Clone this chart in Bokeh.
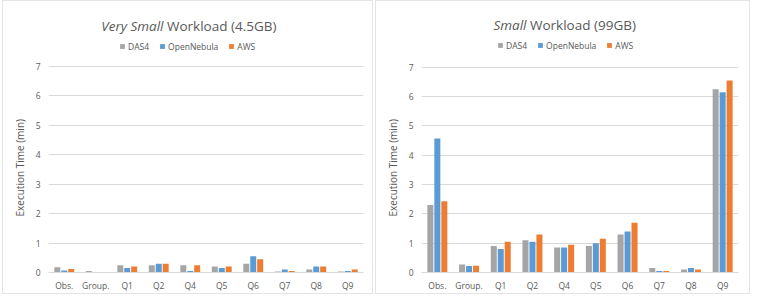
from bokeh.plotting import figure
from bokeh.layouts import row
from bokeh.models import (ColumnDataSource, FactorRange, Legend, LegendItem, FixedTicker,
                          Label, Title, Range1d)
from bokeh.transform import dodge
from bokeh.embed import file_html
from bokeh.resources import INLINE

categories = ["Obs.", "Group.", "Q1", "Q2", "Q4", "Q5", "Q6", "Q7", "Q8", "Q9"]
series_names = ["DAS4", "OpenNebula", "AWS"]

vs_das4 = [0.18, 0.05, 0.25, 0.25, 0.25, 0.20, 0.30, 0.03, 0.10, 0.03]
vs_opennebula = [0.07, 0.01, 0.15, 0.30, 0.05, 0.15, 0.55, 0.10, 0.20, 0.05]
vs_aws = [0.12, 0.01, 0.20, 0.30, 0.25, 0.20, 0.45, 0.05, 0.20, 0.10]

s_das4 = [2.30, 0.27, 0.90, 1.10, 0.85, 0.90, 1.30, 0.15, 0.10, 6.25]
s_opennebula = [4.57, 0.22, 0.80, 1.05, 0.85, 1.00, 1.40, 0.05, 0.15, 6.15]
s_aws = [2.43, 0.23, 1.05, 1.30, 0.95, 1.15, 1.70, 0.05, 0.10, 6.55]

y_ticks = [0, 1, 2, 3, 4, 5, 6, 7]
colors = ["#A5A5A5", "#5B9BD5", "#ED7D31"]
FONT = "Open Sans"
TXT = "#595959"
AXIS_PX = 206  # pixel height of the 0..7 axis span


def make_panel(vals, title_it, title_rest, width, height, ml, mr, mt, mb, split_x, legend_x):
    frame_h = height - mt - mb
    y_end = 7 * frame_h / AXIS_PX
    p = figure(x_range=FactorRange(*categories), y_range=Range1d(0, y_end),
               width=width, height=height, output_backend="svg", toolbar_location=None,
               min_border_left=ml, min_border_right=mr, min_border_top=mt, min_border_bottom=mb)
    src = ColumnDataSource(dict(cat=categories, a=vals[0], b=vals[1], c=vals[2]))
    offs = [-0.22, 0.0, 0.22]
    items = []
    for key, off, col, name in zip(["a", "b", "c"], offs, colors, series_names):
        r = p.vbar(x=dodge("cat", off, range=p.x_range), top=key, width=0.19, source=src,
                   fill_color=col, line_color=None)
        items.append(LegendItem(label=name, renderers=[r]))
    p.x_range.range_padding = 0.0
    p.outline_line_color = None
    p.yaxis.ticker = FixedTicker(ticks=y_ticks)
    p.yaxis.axis_line_color = None
    p.yaxis.major_label_standoff = 8
    p.xaxis.axis_line_color = "#D9D9D9"
    p.xaxis.major_label_standoff = 7
    for ax in (p.xaxis, p.yaxis):
        ax.major_tick_line_color = None
        ax.minor_tick_line_color = None
        ax.major_tick_out = 0
        ax.major_tick_in = 0
        ax.minor_tick_out = 0
        ax.major_label_text_font = FONT
        ax.major_label_text_font_size = "8.5px"
        ax.major_label_text_color = TXT
    p.xgrid.grid_line_color = None
    p.ygrid.grid_line_color = "#D9D9D9"
    p.ygrid.ticker = FixedTicker(ticks=y_ticks)

    # y axis title, placed along the 0..7 span
    ytitle = Title(text="Execution Time (min)", align="left", text_font=FONT,
                   text_font_style="normal", text_font_size="10px", text_color=TXT,
                   offset=56, standoff=11)
    p.add_layout(ytitle, "left")

    legend = Legend(items=items, orientation="horizontal", location=(legend_x, frame_h - 48),
                    label_text_font=FONT, label_text_font_size="8.5px", label_text_color=TXT,
                    glyph_width=6, glyph_height=6, label_standoff=3, spacing=10,
                    label_height=12, padding=0, margin=0, border_line_color=None,
                    background_fill_alpha=0)
    p.add_layout(legend, "center")

    ty = frame_h - 21
    t1 = Label(x=split_x, y=ty, x_units="screen", y_units="screen", text=title_it,
               text_font=FONT, text_font_style="italic", text_font_size="13.5px",
               text_color=TXT, text_align="right", text_baseline="middle")
    t2 = Label(x=split_x, y=ty, x_units="screen", y_units="screen", text="\u00a0" + title_rest,
               text_font=FONT, text_font_size="13.5px", text_color=TXT,
               text_align="left", text_baseline="middle")
    p.add_layout(t1)
    p.add_layout(t2)
    p.styles = {"border": "1px solid #E4E4E4"}
    return p


p1 = make_panel([vs_das4, vs_opennebula, vs_aws], "Very Small", "Workload (4.5GB)",
                371, 294, 45, 11, 3, 23, 115, 71)
p2 = make_panel([s_das4, s_opennebula, s_aws], "Small", "Workload (99GB)",
                375, 294, 45, 13, 3, 22, 105, 76)
p1.margin = (0, 0, 0, 2)
layout = row(p1, p2, spacing=2)
open("out.html", "w").write(file_html(layout, INLINE))
